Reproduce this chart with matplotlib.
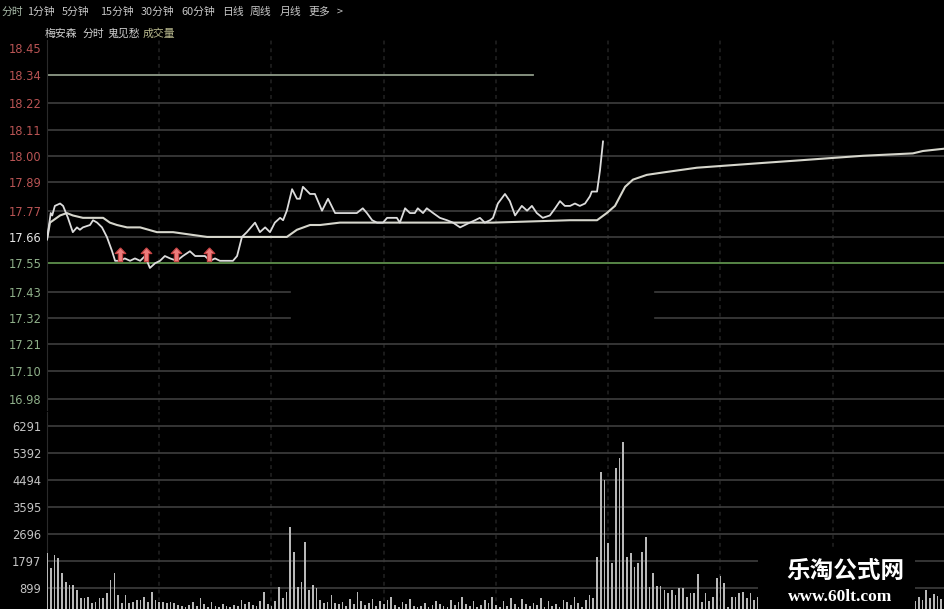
import matplotlib
matplotlib.use("Agg")
import matplotlib.pyplot as plt
from matplotlib.patches import Rectangle

plt.rcParams['font.family'] = ['Noto Sans CJK SC', 'DejaVu Sans']

# 价格（分时）: 分钟序号 / 价格
price_min = [0, 1, 1.4, 2.1, 3.5, 4.3, 5.6, 6.9, 8.0, 8.8, 9.6, 11.5, 12.3, 13.4, 14.7,
             16.0, 17.4, 18.2, 19.5, 20.8, 22.2, 23.5, 24.9, 26.2, 27.5, 28.9, 30.2,
             31.5, 32.9, 34.7, 36.3, 38.2, 39.6, 40.9, 42.2, 43.6, 44.9, 46.2, 48.1,
             49.7, 50.8, 52.1, 53.4, 55.6, 56.9, 58.3, 59.6, 60.9, 62.3, 63.1, 64.1,
             65.5, 66.8, 67.6, 68.4, 70.3, 71.6, 73.5, 75.1, 77.0, 80.2, 81.8, 82.8,
             84.4, 85.5, 86.9, 88.2, 89.8, 90.9, 92.2, 93.5, 94.3, 95.7, 97.0, 98.3,
             99.1, 100.5, 101.5, 103.2, 105.0, 106.9, 108.5, 110.4, 111.7, 113.0,
             114.4, 115.7, 117.0, 118.4, 119.2, 120.5, 122.4, 123.7, 125.1, 126.9,
             128.3, 129.6, 130.9, 132.5, 134.4, 135.8, 137.1, 138.4, 139.8, 141.1,
             142.4, 143.8, 145.1, 145.6, 147.0, 147.8, 148.6]
price_val = [17.65, 17.76, 17.75, 17.79, 17.80, 17.79, 17.74, 17.68, 17.70, 17.69, 17.70,
             17.71, 17.73, 17.72, 17.70, 17.66, 17.60, 17.56, 17.56, 17.57, 17.56, 17.57,
             17.56, 17.58, 17.53, 17.55, 17.56, 17.58, 17.57, 17.56, 17.58, 17.60, 17.58,
             17.58, 17.58, 17.56, 17.57, 17.56, 17.56, 17.56, 17.58, 17.66, 17.68, 17.72,
             17.68, 17.70, 17.68, 17.72, 17.74, 17.73, 17.77, 17.86, 17.82, 17.82, 17.87,
             17.84, 17.84, 17.77, 17.82, 17.76, 17.76, 17.76, 17.76, 17.78, 17.76, 17.73,
             17.72, 17.72, 17.74, 17.74, 17.74, 17.72, 17.78, 17.76, 17.76, 17.78, 17.76,
             17.78, 17.76, 17.74, 17.73, 17.72, 17.70, 17.71, 17.72, 17.73, 17.74, 17.72,
             17.73, 17.74, 17.80, 17.84, 17.81, 17.75, 17.79, 17.77, 17.79, 17.76, 17.74,
             17.75, 17.78, 17.81, 17.79, 17.79, 17.80, 17.79, 17.80, 17.83, 17.85, 17.85,
             17.94, 18.06]

# 均价线
avg_min = [0, 0.8, 3.5, 5.3, 6.9, 9.6, 12.3, 15.0, 16.8, 18.7, 21.4, 24.9, 29.4, 33.7,
           38.2, 42.8, 47.0, 52.4, 57.7, 64.1, 66.8, 70.3, 73.0, 78.3, 84.4, 102.4,
           119.2, 139.8, 147.0, 149.6, 151.8, 154.5, 156.6, 160.3, 164.6, 173.7, 182.5,
           191.3, 200.4, 209.2, 218.1, 231.4, 234.1, 240]
avg_val = [17.65, 17.72, 17.75, 17.76, 17.75, 17.74, 17.74, 17.74, 17.72, 17.71, 17.70,
           17.70, 17.68, 17.68, 17.67, 17.66, 17.66, 17.66, 17.66, 17.66, 17.69, 17.71,
           17.71, 17.72, 17.72, 17.72, 17.72, 17.73, 17.73, 17.76, 17.79, 17.87, 17.90,
           17.92, 17.93, 17.95, 17.96, 17.97, 17.98, 17.99, 18.00, 18.01, 18.02, 18.03]

# 鬼见愁 信号
signal_min = [19.5, 26.5, 34.5, 43.3]
signal_val = [17.585, 17.585, 17.585, 17.585]

# 成交量（每分钟）
volume = [2060, 1560, 2000, 1900, 1400, 1100, 1000, 1000, 830, 570,
          570, 600, 400, 430, 570, 570, 730, 1170, 1400, 670,
          400, 670, 400, 430, 500, 500, 600, 430, 770, 500,
          430, 430, 400, 430, 400, 330, 300, 250, 330, 430,
          300, 570, 350, 280, 430, 300, 260, 350, 300, 280,
          330, 300, 500, 350, 420, 330, 300, 450, 770, 380,
          300, 450, 930, 570, 770, 2930, 2100, 930, 1100, 2430,
          830, 1000, 900, 500, 400, 430, 670, 400, 350, 430,
          300, 520, 380, 770, 450, 330, 400, 520, 300, 450,
          380, 500, 600, 330, 280, 430, 350, 520, 300, 260,
          300, 400, 250, 330, 450, 380, 300, 270, 500, 330,
          420, 600, 350, 300, 450, 280, 330, 500, 400, 600,
          330, 250, 450, 300, 560, 380, 280, 520, 350, 300,
          400, 330, 560, 280, 450, 300, 380, 270, 500, 430,
          330, 600, 400, 270, 500, 670, 570, 1930, 4760, 4490,
          2400, 1730, 4890, 5230, 5760, 1930, 2060, 1600, 1730, 2100,
          2600, 930, 1400, 970, 970, 830, 730, 830, 670, 900,
          900, 600, 730, 730, 1370, 430, 730, 470, 600, 1230,
          1300, 1070, 270, 600, 600, 730, 770, 570, 730, 500,
          600, 450, 700, 520, 800, 400, 650, 500, 380, 720,
          560, 430, 600, 900, 480, 350, 620, 500, 700, 420,
          550, 380, 640, 470, 500, 820, 400, 560, 450, 600,
          380, 700, 520, 430, 610, 480, 350, 560, 500, 650,
          420, 530, 470, 600, 500, 830, 560, 700, 620, 520,
          660]

price_ticks = [18.45, 18.34, 18.22, 18.11, 18.00, 17.89, 17.77, 17.66,
               17.55, 17.43, 17.32, 17.21, 17.10, 16.98]
prev_close = 17.66
vol_ticks = [6291, 5392, 4494, 3595, 2696, 1797, 899]

menu_items = ["分时", "1分钟", "5分钟", "15分钟", "30分钟", "60分钟", "日线", "周线", "月线", "更多", ">"]
menu_x = [2, 27, 62, 100, 141, 181, 222, 250, 280, 308, 337]
legend_items = ["梅安森", "分时", "鬼见愁", "成交量"]
legend_x = [45, 83, 107, 143]
legend_colors = ["#d0d0d0", "#d0d0d0", "#d0d0d0", "#b9b98e"]

W, H = 945, 609
fig = plt.figure(figsize=(W / 100, H / 100), dpi=100, facecolor="black")

def fx(px):
    return px / W

def fy(py):
    return 1 - py / H

grid_c = "#3e3e3e"
vline_c = "#1b1b1b"

# ---- 价格区 ----
ax = fig.add_axes([fx(47), fy(410), fx(945) - fx(47), fy(40) - fy(410)])
ax.set_facecolor("black")
ax.set_xlim(0, 240)
ax.set_ylim(16.935, 18.485)
for s in ax.spines.values():
    s.set_visible(False)
ax.spines["left"].set_visible(True)
ax.spines["left"].set_color("#2a2a2a")

for t in price_ticks:
    if t == 18.45:
        continue
    if t == 18.34:
        ax.axhline(t, xmin=0, xmax=(533 - 47) / 898, color="#8e9a88", lw=1.3, zorder=1)
    elif t == 17.55:
        ax.axhline(t, color="#5e8f4c", lw=1.3, zorder=1)
    elif t in (17.43, 17.32):
        ax.axhline(t, xmin=0, xmax=(290 - 47) / 898, color=grid_c, lw=1.2, zorder=1)
        ax.axhline(t, xmin=(655 - 47) / 898, xmax=1, color=grid_c, lw=1.2, zorder=1)
    else:
        ax.axhline(t, color=grid_c, lw=1.2, zorder=1)

for m in range(30, 240, 30):
    ax.axvline(m, color=vline_c, lw=1.4, ls=(0, (2, 2)), zorder=0)

ax.set_yticks(price_ticks)
ax.set_yticklabels([f"{t:.2f}" for t in price_ticks])
for lab, t in zip(ax.get_yticklabels(), price_ticks):
    if t > prev_close:
        lab.set_color("#b95454")
    elif t < prev_close:
        lab.set_color("#8fb08a")
    else:
        lab.set_color("#e6e6e6")
ax.tick_params(axis="y", length=0, pad=4, labelsize=8.3)
ax.set_xticks([])
for lab in ax.get_yticklabels():
    lab.set_family("DejaVu Sans")

ax.plot(avg_min, avg_val, color="#d6d6cc", lw=1.5, zorder=3)
ax.plot(price_min, price_val, color="#dcdcdc", lw=1.3, zorder=4)

arrow = [(0, 1), (0.7, 0.25), (0.28, 0.25), (0.28, -0.8), (-0.28, -0.8), (-0.28, 0.25), (-0.7, 0.25), (0, 1)]
ax.plot(signal_min, signal_val, ls="none", marker=arrow, markersize=11,
        markerfacecolor="#ec7c7c", markeredgecolor="#c84444", markeredgewidth=0.8, zorder=5)

# ---- 成交量区 ----
axv = fig.add_axes([fx(47), 0, fx(945) - fx(47), fy(412)])
axv.set_facecolor("black")
axv.set_xlim(0, 240)
axv.set_ylim(200, 6756)
for s in axv.spines.values():
    s.set_visible(False)
axv.spines["left"].set_visible(True)
axv.spines["left"].set_color("#2a2a2a")
for t in vol_ticks:
    axv.axhline(t, color=grid_c, lw=1.2, zorder=1)
for m in range(30, 240, 30):
    axv.axvline(m, color=vline_c, lw=1.4, ls=(0, (2, 2)), zorder=0)
axv.bar(range(len(volume)), volume, width=0.45, color="#b8b8b8", zorder=3)
axv.set_yticks(vol_ticks)
axv.set_yticklabels([str(v) for v in vol_ticks], color="#c4c4c4")
axv.tick_params(axis="y", length=0, pad=4, labelsize=8.3)
axv.set_xticks([])
for lab in axv.get_yticklabels():
    lab.set_family("DejaVu Sans")

# ---- 顶部菜单与标题 ----
for name, x in zip(menu_items, menu_x):
    c = "#a9bba9" if name == "分时" else "#c6c6c6"
    fig.text(fx(x), fy(12), name, color=c, fontsize=7.8, va="center", ha="left")
for name, x, c in zip(legend_items, legend_x, legend_colors):
    fig.text(fx(x), fy(34), name, color=c, fontsize=7.8, va="center", ha="left")

# ---- 水印 ----
fig.patches.append(Rectangle((fx(758), 0), fx(915) - fx(758), fy(548),
                             transform=fig.transFigure, facecolor="black",
                             edgecolor="none", zorder=10))
fig.text(fx(845), fy(571), "乐淘公式网", color="white", fontsize=17,
         fontweight="bold", ha="center", va="center", zorder=11)
fig.text(fx(840), fy(597), "www.60lt.com", color="white", fontsize=12.5,
         fontweight="bold", family=["Liberation Serif", "DejaVu Serif"],
         ha="center", va="center", zorder=11)

fig.savefig("out.png", dpi=100, facecolor="black")
